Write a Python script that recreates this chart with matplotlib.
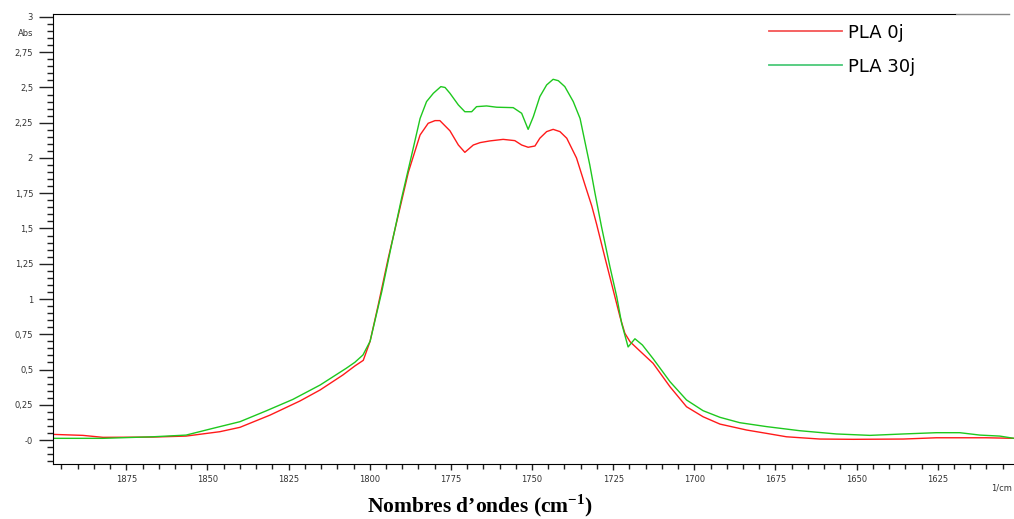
import numpy as np
import matplotlib
matplotlib.use('Agg')
import matplotlib.pyplot as plt
import matplotlib.ticker as plticker
from matplotlib.lines import Line2D

plt.rcParams['mathtext.fontset'] = 'custom'
plt.rcParams['mathtext.rm'] = 'Liberation Serif'
plt.rcParams['mathtext.bf'] = 'Liberation Serif:bold'

# Spectra (wavenumber in 1/cm, absorbance)
wn_0j = [1897.6, 1888.4, 1882.2, 1866.8, 1856.6, 1846.2, 1840.0, 1830.7, 1821.5,
         1815.3, 1808.3, 1804.6, 1802.0, 1799.9, 1797.4, 1794.3, 1791.2, 1788.1,
         1784.5, 1782.0, 1779.9, 1778.4, 1775.3, 1772.7, 1770.7, 1768.1, 1766.0,
         1763.0, 1758.9, 1755.3, 1753.2, 1751.2, 1749.1, 1747.6, 1745.5, 1743.5,
         1741.4, 1739.3, 1736.3, 1733.7, 1731.6, 1730.1, 1727.5, 1725.0, 1722.9,
         1721.4, 1719.8, 1716.8, 1712.7, 1707.5, 1702.4, 1697.3, 1692.1, 1683.9,
         1677.7, 1671.6, 1661.3, 1651.0, 1635.6, 1625.4, 1610.0, 1601.5]
abs_0j = [0.040, 0.033, 0.019, 0.021, 0.028, 0.059, 0.090, 0.177, 0.277,
          0.355, 0.461, 0.525, 0.565, 0.700, 0.957, 1.290, 1.596, 1.900,
          2.163, 2.246, 2.265, 2.265, 2.193, 2.092, 2.040, 2.092, 2.109,
          2.121, 2.132, 2.123, 2.092, 2.076, 2.085, 2.140, 2.187, 2.203,
          2.187, 2.140, 2.000, 1.810, 1.660, 1.530, 1.290, 1.064, 0.874,
          0.757, 0.697, 0.632, 0.544, 0.378, 0.236, 0.165, 0.113, 0.071,
          0.047, 0.023, 0.007, 0.005, 0.007, 0.016, 0.016, 0.012]

wn_30j = [1897.6, 1882.2, 1866.8, 1856.6, 1848.3, 1840.0, 1832.0, 1823.7, 1815.3,
          1807.3, 1804.6, 1802.1, 1799.9, 1796.3, 1793.3, 1790.2, 1787.1, 1784.5,
          1782.5, 1780.4, 1778.1, 1776.8, 1775.3, 1772.7, 1770.7, 1768.6, 1767.1,
          1764.0, 1760.9, 1755.8, 1753.2, 1751.2, 1749.6, 1747.6, 1745.5, 1743.5,
          1741.9, 1739.9, 1737.3, 1735.2, 1732.2, 1730.6, 1728.6, 1726.0, 1723.9,
          1722.4, 1720.4, 1718.3, 1716.0, 1712.7, 1707.5, 1702.4, 1697.3, 1692.1,
          1686.0, 1677.7, 1667.5, 1656.2, 1645.9, 1635.6, 1625.4, 1618.2, 1612.0,
          1605.9, 1601.5]
abs_30j = [0.012, 0.012, 0.023, 0.035, 0.083, 0.130, 0.206, 0.288, 0.390,
           0.508, 0.551, 0.603, 0.700, 1.052, 1.383, 1.714, 2.020, 2.280,
           2.400, 2.459, 2.506, 2.500, 2.459, 2.376, 2.328, 2.328, 2.364,
           2.369, 2.360, 2.357, 2.317, 2.203, 2.293, 2.435, 2.518, 2.558,
           2.548, 2.506, 2.400, 2.280, 1.950, 1.750, 1.513, 1.229, 1.016,
           0.828, 0.660, 0.718, 0.674, 0.577, 0.414, 0.284, 0.208, 0.161,
           0.123, 0.095, 0.066, 0.043, 0.033, 0.043, 0.052, 0.052, 0.035,
           0.028, 0.012]

labels = ['PLA 0j', 'PLA 30j']

###############################################################
# Plots
fig = plt.figure(figsize=(10.14, 5.19), dpi=100)
ax = fig.add_axes([53/1014, 55/519, 961/1014, 450/519])

ax.plot(wn_0j, abs_0j, color='#ff1a1a', lw=1.0)
ax.plot(wn_30j, abs_30j, color='#1ec81e', lw=1.0)

ax.set_xlim(1897.6, 1601.5)
ax.set_ylim(-0.17, 3.021)

ax.xaxis.set_major_locator(plticker.MultipleLocator(25))
ax.xaxis.set_minor_locator(plticker.MultipleLocator(5))
ax.yaxis.set_major_locator(plticker.MultipleLocator(0.25))
ax.yaxis.set_minor_locator(plticker.MultipleLocator(0.05))
ax.xaxis.set_major_formatter(plticker.FuncFormatter(lambda v, p: '%d' % round(v)))
ax.yaxis.set_major_formatter(plticker.FuncFormatter(
    lambda v, p: '-0' if abs(v) < 1e-9 else ('%g' % v).replace('.', ',')))

ax.tick_params(axis='y', which='major', direction='out', length=10, width=1,
               pad=4.3, labelsize=6, labelcolor='#333333', color='#222222')
ax.tick_params(axis='y', which='minor', direction='out', length=4.3, width=1,
               color='#222222')
ax.tick_params(axis='x', which='major', direction='out', length=4, width=1,
               pad=3.6, labelsize=6, labelcolor='#333333', color='#222222')
ax.tick_params(axis='x', which='minor', direction='out', length=3.5, width=1,
               color='#222222')

ax.spines['right'].set_visible(False)
ax.spines['top'].set_bounds(1897.6, 1619.7)
ax.axhline(3.021, xmin=0.94, xmax=0.995, color='#888888', lw=1, clip_on=False)

# legend
handles = [Line2D([], [], color='#f55555', lw=1.3),
           Line2D([], [], color='#4cc97a', lw=1.3)]
ax.legend(handles, labels, loc='upper left', bbox_to_anchor=(769/1014, 1 - 23.5/519),
          bbox_transform=fig.transFigure, frameon=False, borderpad=0,
          borderaxespad=0, handlelength=4.04, handletextpad=0.33,
          labelspacing=0.9, fontsize=13)

fig.text(33/1014, 1 - 34/519, 'Abs', ha='right', va='center', fontsize=6,
         color='#333333')
fig.text(1012/1014, 1 - 488/519, '1/cm', ha='right', va='center', fontsize=6,
         color='#333333')
fig.text(480/1014, 1 - 512/519, r'Nombres d’ondes (cm$^{\mathbf{-1}}$)',
         ha='center', va='baseline', fontsize=15.5, fontweight='bold',
         family='Liberation Serif')

plt.savefig('out.png', dpi=100)
